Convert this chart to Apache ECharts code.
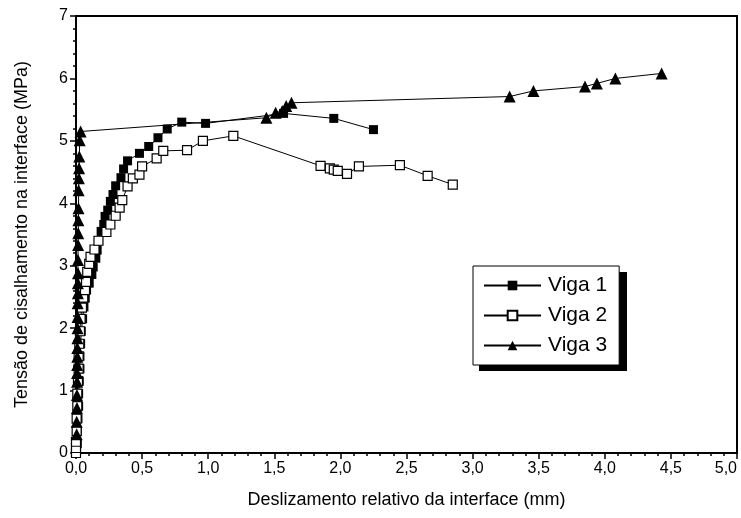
<!DOCTYPE html>
<html><head><meta charset="utf-8">
<script src="https://cdn.jsdelivr.net/npm/echarts@6/dist/echarts.min.js"></script>
<style>html,body{margin:0;padding:0;background:#fff}#c{width:741px;height:518px}</style>
</head><body><div id="c"></div>
<script>
const seriesNames = ['Viga 1', 'Viga 2', 'Viga 3'];
const xTicks = [0, 0.5, 1, 1.5, 2, 2.5, 3, 3.5, 4, 4.5, 5];
const yTicks = [0, 1, 2, 3, 4, 5, 6, 7];
const viga1 = [
 [0.00,0.00],[0.01,0.15],[0.01,0.35],[0.015,0.55],[0.02,0.75],[0.02,0.95],[0.025,1.15],[0.03,1.35],
 [0.03,1.55],[0.035,1.75],[0.04,1.95],[0.05,2.15],[0.06,2.34],[0.07,2.48],[0.08,2.61],[0.10,2.72],
 [0.12,2.86],[0.13,2.98],[0.15,3.12],[0.16,3.25],[0.17,3.40],[0.19,3.55],[0.21,3.66],[0.22,3.79],
 [0.24,3.89],[0.26,4.03],[0.28,4.14],[0.30,4.28],[0.34,4.41],[0.36,4.55],[0.39,4.68],[0.48,4.80],
 [0.55,4.91],[0.62,5.05],[0.69,5.19],[0.80,5.30],[0.98,5.28],[1.57,5.44],[1.95,5.36],[2.25,5.18]
];
const viga2 = [
 [0.00,0.00],[0.00,0.08],[0.00,0.18],[0.005,0.35],[0.005,0.55],[0.01,0.75],[0.01,0.95],[0.015,1.15],
 [0.02,1.35],[0.02,1.55],[0.025,1.75],[0.03,1.95],[0.035,2.15],[0.045,2.33],[0.055,2.49],[0.068,2.61],
 [0.076,2.74],[0.085,2.90],[0.10,3.03],[0.11,3.14],[0.14,3.26],[0.17,3.40],[0.23,3.54],[0.26,3.66],
 [0.30,3.80],[0.33,3.93],[0.35,4.05],[0.39,4.27],[0.43,4.40],[0.48,4.46],[0.50,4.59],[0.61,4.72],
 [0.66,4.84],[0.84,4.85],[0.96,5.00],[1.19,5.08],[1.85,4.60],[1.92,4.56],[1.95,4.54],[1.98,4.52],
 [2.05,4.47],[2.14,4.59],[2.45,4.61],[2.66,4.44],[2.85,4.30]
];
const viga3 = [
 [0.005,0.30],[0.005,0.50],[0.007,0.72],[0.007,0.93],[0.008,1.14],[0.008,1.28],[0.009,1.41],[0.010,1.54],
 [0.010,1.68],[0.011,1.84],[0.012,2.00],[0.012,2.18],[0.013,2.40],[0.014,2.56],[0.014,2.72],[0.015,2.88],
 [0.015,3.09],[0.016,3.33],[0.017,3.52],[0.018,3.73],[0.019,3.92],[0.020,4.21],[0.022,4.40],[0.023,4.56],
 [0.025,4.75],[0.028,5.01],[0.035,5.15],[1.44,5.37],[1.51,5.45],[1.56,5.48],[1.59,5.56],[1.63,5.61],
 [3.28,5.71],[3.46,5.80],[3.85,5.87],[3.94,5.92],[4.08,6.00],[4.43,6.08]
];
const FONT = '"Liberation Sans", Arial, sans-serif';
const chart = echarts.init(document.getElementById('c'), null, {renderer: 'canvas'});
function axisCommon() {
  return {
    axisLine: {show: true, lineStyle: {color: '#000', width: 2}},
    axisTick: {show: true, inside: false, length: 6, lineStyle: {color: '#000', width: 1.5}},
    minorTick: {show: true, splitNumber: 5, length: 3, lineStyle: {color: '#000', width: 1.5}},
    splitLine: {show: false},
    axisLabel: {color: '#000', fontFamily: FONT, fontSize: 16, margin: 8},
    nameTextStyle: {color: '#000', fontFamily: FONT, fontSize: 18}
  };
}
const xa = Object.assign(axisCommon(), {
  type: 'value', min: xTicks[0], max: xTicks[xTicks.length - 1], interval: 0.5,
  name: 'Deslizamento relativo da interface (mm)', nameLocation: 'middle', nameGap: 38
});
xa.axisLabel.formatter = v => v.toFixed(1).replace('.', ',');
xa.axisLabel.alignMaxLabel = 'right';
const ya = Object.assign(axisCommon(), {
  type: 'value', min: yTicks[0], max: yTicks[yTicks.length - 1], interval: 1,
  name: 'Tensão de cisalhamento na interface (MPa)', nameLocation: 'middle', nameGap: 45
});
ya.axisLabel.formatter = v => String(v);
function mk(name, data, symbol, size, fill) {
  return {
    name, type: 'line', data, symbol, symbolSize: size, showAllSymbol: true,
    lineStyle: {color: '#000', width: 1},
    itemStyle: {color: fill, borderColor: '#000', borderWidth: fill === '#fff' ? 1.2 : 0},
    emphasis: {disabled: true}, animation: false, z: 3
  };
}
chart.setOption({
  animation: false,
  grid: {left: 76, right: 4, top: 16, bottom: 65, outerBoundsMode: 'none', containLabel: false,
         show: true, borderColor: '#000', borderWidth: 2, backgroundColor: 'transparent'},
  xAxis: xa,
  yAxis: ya,
  graphic: [{
    type: 'rect', z: 1, silent: true,
    shape: {x: 479, y: 272, width: 148, height: 99},
    style: {fill: '#000'}
  }],
  legend: {
    orient: 'vertical', left: 473, top: 266, z: 5,
    data: seriesNames,
    itemWidth: 57, itemHeight: 12, itemGap: 9,
    padding: [9, 12, 9, 10],
    backgroundColor: '#fff', borderColor: '#000', borderWidth: 1,
    textStyle: {color: '#000', fontFamily: FONT, fontSize: 21, padding: [0, 0, 0, 2]},
    selectedMode: false
  },
  series: [
    mk(seriesNames[0], viga1, 'rect', 9, '#000'),
    mk(seriesNames[1], viga2, 'rect', 9, '#fff'),
    mk(seriesNames[2], viga3, 'triangle', 12, '#000')
  ]
});
</script></body></html>
